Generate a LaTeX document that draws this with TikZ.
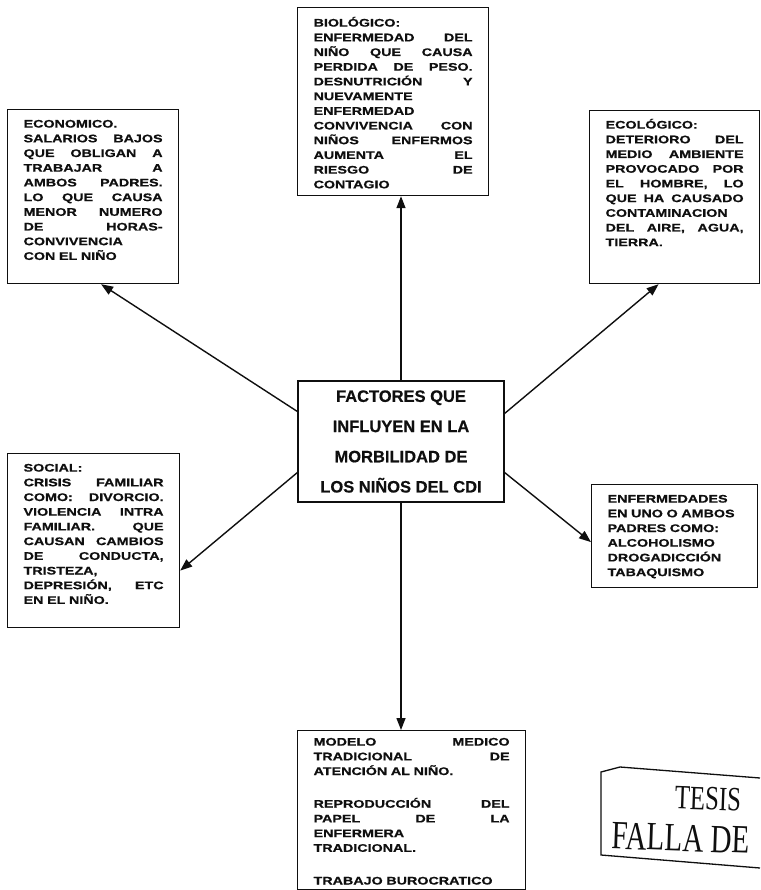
\documentclass[tikz,border=0pt]{standalone}
\usepackage{fontspec}
\usepackage{tikz}
\usetikzlibrary{arrows.meta,calc,positioning}
\newfontfamily\boxfont[FakeStretch=1.3,FakeBold=0.8]{Liberation Sans Bold}
\newfontfamily\titlefont[FakeBold=0.6]{Liberation Sans Bold}
\newfontfamily\stampfont[FakeStretch=0.73]{Liberation Serif}
\definecolor{inkgray}{RGB}{15,15,15}

\begin{document}
\begin{tikzpicture}[
  x=1pt,y=-1pt,
  box/.style={draw=inkgray,line width=1.2pt,anchor=north west,align=left,
    inner xsep=16pt,inner ysep=0pt,text height=18pt,text=inkgray,
    font=\boxfont\fontsize{11}{14.7}\selectfont},
  hub/.style={draw=inkgray,line width=1.2pt,align=center,text=inkgray,
    minimum width=206pt,minimum height=121pt,
    font=\titlefont\fontsize{16.5}{30.2}\selectfont},
  link/.style={-{Triangle[length=12pt,width=9pt]},line width=1.4pt,inkgray},
  stamptext/.style={inkgray,rotate=-2,inner sep=0pt}
]
  \useasboundingbox (0,0) rectangle (760,890);

  \node[hub] (hub) at (401,441.5) {FACTORES QUE\\INFLUYEN EN LA\\MORBILIDAD DE\\LOS NIÑOS DEL CDI};

  \node[box,text width=139pt,text depth=156pt] (econ) at (7,109) {%
    ECONOMICO.\\
    SALARIOS \hfill BAJOS\\
    QUE \hfill OBLIGAN \hfill A\\
    TRABAJAR \hfill A\\
    AMBOS \hfill PADRES.\\
    LO \hfill QUE \hfill CAUSA\\
    MENOR \hfill NUMERO\\
    DE \hfill HORAS-\\
    CONVIVENCIA\\
    CON EL NIÑO};

  \node[box,text width=159pt,text height=19pt,text depth=169pt] (bio) at (297,7) {%
    BIOLÓGICO:\\
    ENFERMEDAD \hfill DEL\\
    NIÑO \hfill QUE \hfill CAUSA\\
    PERDIDA \hfill DE \hfill PESO.\\
    DESNUTRICIÓN \hfill Y\\
    NUEVAMENTE\\
    ENFERMEDAD\\
    CONVIVENCIA \hfill CON\\
    NIÑOS \hfill ENFERMOS\\
    AUMENTA \hfill EL\\
    RIESGO \hfill DE\\
    CONTAGIO};

  \node[box,text width=138pt,text depth=155pt] (ecol) at (589,110) {%
    ECOLÓGICO:\\
    DETERIORO \hfill DEL\\
    MEDIO \hfill AMBIENTE\\
    PROVOCADO \hfill POR\\
    EL \hfill HOMBRE, \hfill LO\\
    QUE \hfill HA \hfill CAUSADO\\
    CONTAMINACION\\
    DEL \hfill AIRE, \hfill AGUA,\\
    TIERRA.};

  \node[box,text width=140pt,text depth=156pt] (soc) at (7,453) {%
    SOCIAL:\\
    CRISIS \hfill FAMILIAR\\
    COMO: \hfill DIVORCIO.\\
    VIOLENCIA \hfill INTRA\\
    FAMILIAR. \hfill QUE\\
    CAUSAN \hfill CAMBIOS\\
    DE \hfill CONDUCTA,\\
    TRISTEZA,\\
    DEPRESIÓN, \hfill ETC\\
    EN EL NIÑO.};

  \node[box,text width=134pt,text depth=85pt] (enf) at (591,484) {%
    ENFERMEDADES\\
    EN UNO O AMBOS\\
    PADRES COMO:\\
    ALCOHOLISMO\\
    DROGADICCIÓN\\
    TABAQUISMO};

  \node[box,text width=196pt,text height=15pt,text depth=144pt] (care) at (297,730) {%
    MODELO \hfill MEDICO\\
    TRADICIONAL \hfill DE\\
    ATENCIÓN AL NIÑO.\\[18pt]
    REPRODUCCIÓN \hfill DEL\\
    PAPEL \hfill DE \hfill LA\\
    ENFERMERA\\
    TRADICIONAL.\\[18pt]
    TRABAJO BUROCRATICO};

  \draw[link] (hub.north) -- (hub.north |- bio.south);
  \draw[link] ([yshift=30pt]hub.west) -- ([xshift=8pt]econ.south);
  \draw[link] ([yshift=28pt]hub.east) -- ([xshift=-16pt]ecol.south);
  \draw[link] ([yshift=-31pt]hub.west) -- ([yshift=-30pt]soc.east);
  \draw[link] ([yshift=-31pt]hub.east) -- ([yshift=-6pt]enf.west);
  \draw[link] (hub.south) -- (hub.south |- care.north);

  \draw[inkgray,line width=1.3pt] (760,778) -- (620,767) -- (601,772) -- (601,855) -- (760,868);
  \node[stamptext,font=\stampfont\fontsize{34}{34}\selectfont] (tesis) at (708,799) {TESIS};
  \node[stamptext,font=\stampfont\fontsize{40}{40}\selectfont] (falla) at (681,838) {FALLA DE};
\end{tikzpicture}
\end{document}
